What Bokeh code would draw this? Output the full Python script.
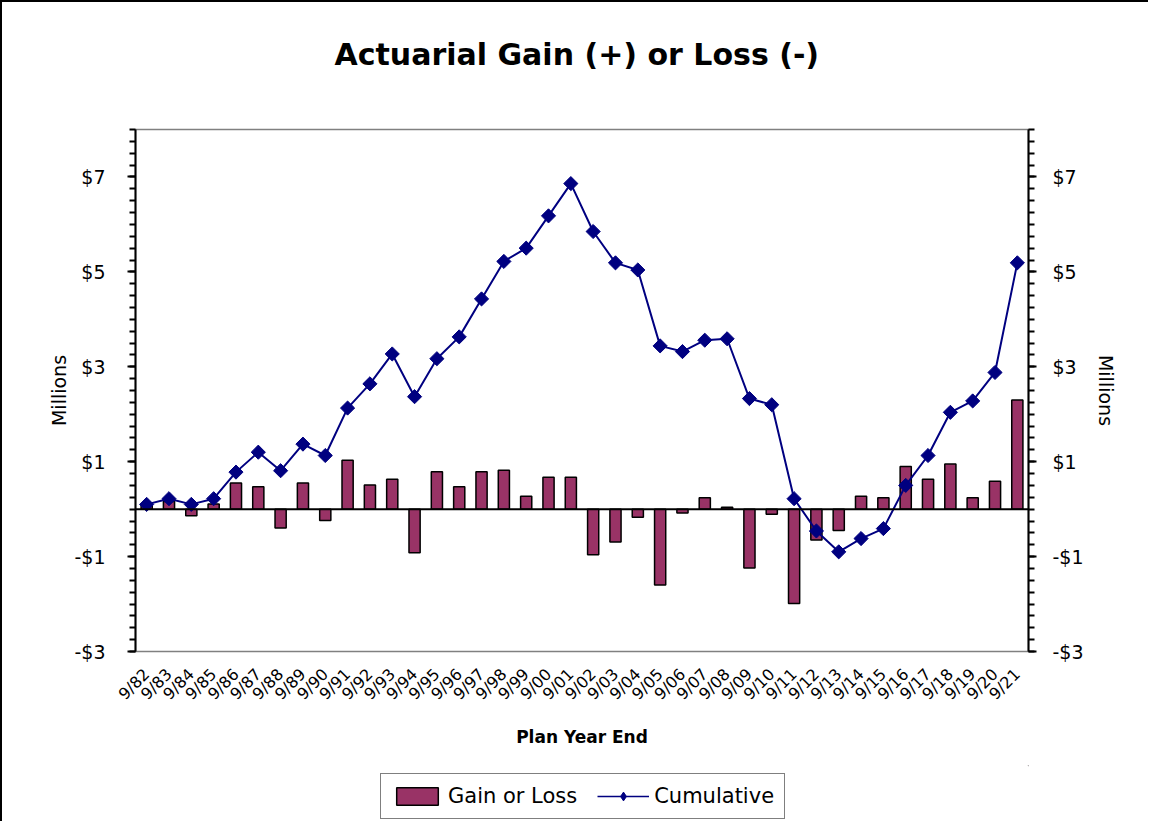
import math
from bokeh.plotting import figure
from bokeh.layouts import column
from bokeh.models import (ColumnDataSource, Range1d, LinearAxis, FixedTicker, Span,
                          Legend, LegendItem, FactorRange, Title)
from bokeh.embed import file_html
from bokeh.resources import INLINE

years = ["9/82", "9/83", "9/84", "9/85", "9/86", "9/87", "9/88", "9/89", "9/90", "9/91",
         "9/92", "9/93", "9/94", "9/95", "9/96", "9/97", "9/98", "9/99", "9/00", "9/01",
         "9/02", "9/03", "9/04", "9/05", "9/06", "9/07", "9/08", "9/09", "9/10", "9/11",
         "9/12", "9/13", "9/14", "9/15", "9/16", "9/17", "9/18", "9/19", "9/20", "9/21"]
gain = [0.10, 0.16, -0.14, 0.11, 0.55, 0.47, -0.40, 0.55, -0.24, 1.03,
        0.51, 0.63, -0.92, 0.79, 0.47, 0.79, 0.82, 0.27, 0.67, 0.67,
        -0.96, -0.69, -0.17, -1.60, -0.08, 0.24, 0.04, -1.24, -0.11, -1.99,
        -0.65, -0.45, 0.27, 0.24, 0.90, 0.63, 0.95, 0.24, 0.59, 2.30]
cumulative = [0.10, 0.22, 0.10, 0.22, 0.78, 1.20, 0.81, 1.37, 1.13, 2.13,
              2.64, 3.27, 2.37, 3.17, 3.63, 4.43, 5.22, 5.50, 6.18, 6.86,
              5.85, 5.19, 5.04, 3.44, 3.32, 3.56, 3.59, 2.33, 2.20, 0.22,
              -0.46, -0.90, -0.62, -0.41, 0.50, 1.13, 2.04, 2.28, 2.88, 5.19]
y_major = [-3, -1, 1, 3, 5, 7]
y_labels = ["-$3", "-$1", "$1", "$3", "$5", "$7"]
title_text = "Actuarial  Gain (+) or Loss (-)"

FONT = "DejaVu Sans"
BAR = "#993366"
LINE = "#000080"
W = 1146
OFF = 2  # outer border thickness

src = ColumnDataSource(dict(year=years, gain=gain, cum=cumulative))

PH = 763
p = figure(width=W, height=PH, x_range=FactorRange(factors=years, range_padding=0),
           y_range=Range1d(-3, 8), output_backend="svg", toolbar_location=None,
           title=None,
           min_border_left=135 - OFF, min_border_right=W - (1028 - OFF),
           min_border_top=129 - OFF, min_border_bottom=PH - (651 - OFF))
p.background_fill_color = "white"
p.border_fill_color = "white"
p.outline_line_color = "#808080"
p.outline_line_width = 1.5
p.xgrid.visible = False
p.ygrid.visible = False

# spacer (closest to the plot area) then the real title above it
p.add_layout(Title(text=" ", text_font=FONT, text_font_size="30px", standoff=16,
                   align="center"), "above")
p.add_layout(Title(text=title_text, text_font=FONT, text_font_style="bold",
                   text_font_size="30px", text_color="black", align="center",
                   standoff=10), "above")

ticker = FixedTicker(ticks=y_major, minor_ticks=[-3 + 0.25 * i for i in range(45)])
overrides = {v: s for v, s in zip(y_major, y_labels)}

def style_y(ax, label_standoff, title_standoff):
    ax.ticker = ticker
    ax.major_label_overrides = overrides
    ax.axis_label = "Millions"
    ax.axis_label_text_font = FONT
    ax.axis_label_text_font_style = "normal"
    ax.axis_label_text_font_size = "19px"
    ax.axis_label_text_color = "black"
    ax.major_label_text_font = FONT
    ax.major_label_text_font_size = "19px"
    ax.major_label_text_color = "black"
    ax.major_label_orientation = "horizontal"
    ax.axis_line_color = "black"
    ax.axis_line_width = 2
    ax.major_tick_line_color = "black"
    ax.major_tick_line_width = 2
    ax.major_tick_out = 8
    ax.major_tick_in = 0
    ax.minor_tick_line_color = "black"
    ax.minor_tick_line_width = 2
    ax.minor_tick_out = 6
    ax.minor_tick_in = 0
    ax.major_label_standoff = label_standoff
    ax.axis_label_standoff = title_standoff

style_y(p.yaxis[0], 22, 1)
right = LinearAxis()
style_y(right, 16, 8)
p.add_layout(right, "right")

xa = p.xaxis[0]
xa.axis_line_color = None
xa.major_tick_line_color = None
xa.minor_tick_line_color = None
xa.major_label_orientation = math.pi / 4
xa.major_label_text_font = FONT
xa.major_label_text_font_size = "16px"
xa.major_label_text_color = "black"
xa.major_label_standoff = 14
xa.axis_label = "Plan Year End"
xa.axis_label_text_font = FONT
xa.axis_label_text_font_style = "bold"
xa.axis_label_text_font_size = "17px"
xa.axis_label_text_color = "black"
xa.axis_label_standoff = 14

bars = p.vbar(x="year", top="gain", width=0.5, source=src, fill_color=BAR,
              line_color="black", line_width=1.5)
p.add_layout(Span(location=0, dimension="width", line_color="black", line_width=2))
ln = p.line(x="year", y="cum", source=src, line_color=LINE, line_width=2)
mk = p.scatter(x="year", y="cum", source=src, marker="square", angle=math.pi / 4,
               size=10, fill_color=LINE, line_color=LINE)

# legend panel below the chart (its sample glyphs sit outside the visible range)
lp = figure(width=W, height=56, x_range=Range1d(0, 1), y_range=Range1d(0, 1),
            output_backend="svg", toolbar_location=None, min_border=0)
lp.axis.visible = False
lp.grid.visible = False
lp.outline_line_color = None
lp.background_fill_color = "white"
lp.border_fill_color = "white"
lb = lp.vbar(x=[5], top=[5], bottom=[4], width=0.5, fill_color=BAR, line_color="black",
             line_width=1.5)
ll = lp.line(x=[5, 6], y=[5, 5], line_color=LINE, line_width=1.5)
lm = lp.scatter(x=[5], y=[5], marker="diamond", size=9,
                fill_color=LINE, line_color=LINE)

legend = Legend(items=[LegendItem(label="Gain or Loss", renderers=[lb]),
                       LegendItem(label="Cumulative", renderers=[ll, lm])],
                orientation="horizontal", location=(245, 2))
legend.label_text_font = FONT
legend.label_text_font_size = "21px"
legend.label_text_color = "black"
legend.border_line_color = "black"
legend.border_line_width = 1.5
legend.padding = 10
legend.margin = 0
legend.spacing = 20
legend.glyph_width = 52
legend.glyph_height = 22
legend.label_standoff = 5
legend.background_fill_alpha = 1
lp.add_layout(legend, "center")

layout = column(p, lp, spacing=0,
                styles={"border-left": "2px solid black", "border-top": "2px solid black"})
open("out.html", "w").write(file_html(layout, INLINE))
